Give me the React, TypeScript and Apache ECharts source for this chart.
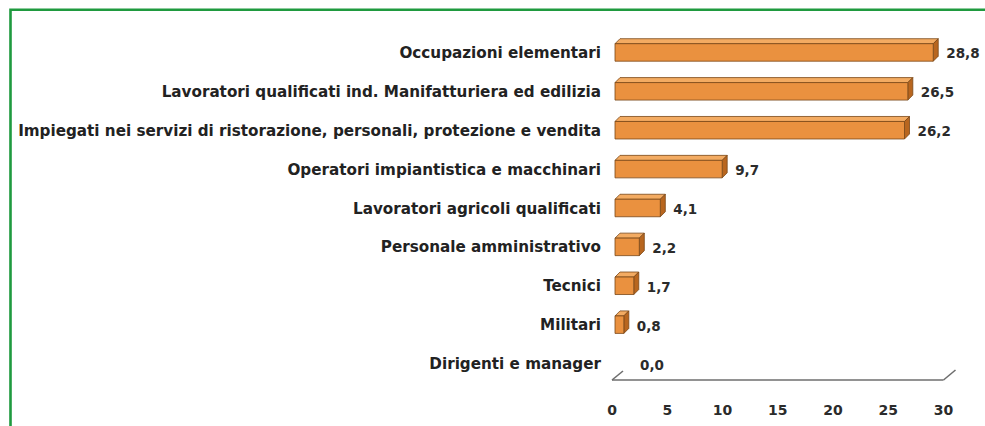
import React, { useEffect, useRef } from "react";
import * as echarts from "echarts";

const categories: string[] = [
  "Occupazioni elementari",
  "Lavoratori qualificati ind. Manifatturiera ed edilizia",
  "Impiegati nei servizi di ristorazione, personali, protezione e vendita",
  "Operatori impiantistica e macchinari",
  "Lavoratori agricoli qualificati",
  "Personale amministrativo",
  "Tecnici",
  "Militari",
  "Dirigenti e manager",
];
const values: number[] = [28.8, 26.5, 26.2, 9.7, 4.1, 2.2, 1.7, 0.8, 0.0];
const xTicks = { min: 0, max: 30, interval: 5 };

const FONT = "'DejaVu Sans', Verdana, sans-serif";

export default function App() {
  const ref = useRef<HTMLDivElement>(null);
  useEffect(() => {
    if (!ref.current) return;
    const chart = echarts.init(ref.current, null, { renderer: "svg" });
    const n = categories.length;
    const option: any = {
      animation: false,
      backgroundColor: "#ffffff",
      textStyle: { fontFamily: FONT },
      grid: { left: 612, right: 41.5, top: 33.5, bottom: 42.5 },
      xAxis: {
        type: "value",
        min: xTicks.min,
        max: xTicks.max,
        interval: xTicks.interval,
        axisLine: { show: false },
        axisTick: { show: false },
        splitLine: { show: false },
        axisLabel: {
          margin: 19,
          color: "#2b2b2b",
          fontWeight: "bold",
          fontSize: 14,
          fontFamily: FONT,
        },
      },
      yAxis: {
        type: "category",
        inverse: true,
        data: categories,
        axisLine: { show: false },
        axisTick: { show: false },
        splitLine: { show: false },
        axisLabel: {
          margin: 11,
          color: "#222222",
          fontWeight: "bold",
          fontSize: 15.2,
          fontFamily: FONT,
        },
      },
      graphic: [
        {
          type: "polyline",
          shape: { points: [[10.5, 426], [10.5, 9.7], [985, 9.7]] },
          style: { stroke: "#1f9a3f", lineWidth: 2.6, fill: "none" },
          silent: true,
        },
      ],
      series: [
        {
          type: "custom",
          coordinateSystem: "cartesian2d",
          encode: { x: 0, y: 1 },
          data: [[0, n - 1]],
          z: 1,
          renderItem: (params: any, api: any) => {
            const idx = api.value(1);
            const band = api.size([0, 1])[1];
            const pl = api.coord([xTicks.min, idx]);
            const pr = api.coord([xTicks.max, idx]);
            const yb = pl[1] + band / 2 - 3.5;
            const xl = pl[0];
            const xr = pr[0];
            const st = { stroke: "#6e6e6e", lineWidth: 1.6 };
            return {
              type: "group",
              children: [
                { type: "line", shape: { x1: xl, y1: yb, x2: xr, y2: yb }, style: st },
                { type: "line", shape: { x1: xl, y1: yb, x2: xl + 11, y2: yb - 9 }, style: st },
                { type: "line", shape: { x1: xr, y1: yb, x2: xr + 12, y2: yb - 10 }, style: st },
              ],
            };
          },
        },
        {
          type: "custom",
          coordinateSystem: "cartesian2d",
          encode: { x: 0, y: 1 },
          data: values.map((v, i) => [v, i]),
          z: 2,
          renderItem: (params: any, api: any) => {
            const v = api.value(0);
            const idx = api.value(1);
            const p0 = api.coord([0, idx]);
            const p1 = api.coord([v, idx]);
            const shift = 3;
            const x0 = p0[0] + shift;
            const x1 = p1[0] + shift;
            const yc = p0[1] - 0.5;
            const h = 17.5;
            const yT = yc - h / 2;
            const yB = yc + h / 2;
            const d = 5;
            const border = "#7a4818";
            const children: any[] = [];
            if (v > 0) {
              children.push(
                {
                  type: "polygon",
                  shape: { points: [[x0, yT], [x0 + d, yT - d], [x1 + d, yT - d], [x1, yT]] },
                  style: { fill: "#f3ab62", stroke: border, lineWidth: 0.8 },
                },
                {
                  type: "polygon",
                  shape: { points: [[x1, yT], [x1 + d, yT - d], [x1 + d, yB - d], [x1, yB]] },
                  style: { fill: "#b8661f", stroke: border, lineWidth: 0.8 },
                },
                {
                  type: "rect",
                  shape: { x: x0, y: yT, width: x1 - x0, height: h },
                  style: { fill: "#ea913f", stroke: border, lineWidth: 0.8 },
                }
              );
            }
            children.push({
              type: "text",
              style: {
                text: v.toFixed(1).replace(".", ","),
                x: x1 + d + (v > 0 ? 8 : 20),
                y: yc + 1,
                verticalAlign: "middle",
                align: "left",
                fill: "#2b2b2b",
                font: `bold 13.5px ${FONT}`,
              },
            });
            return { type: "group", children };
          },
        },
      ],
    };
    chart.setOption(option);
    return () => chart.dispose();
  }, []);
  return (
    <div
      ref={ref}
      style={{ position: "absolute", left: 0, top: 0, width: 985, height: 426 }}
    />
  );
}
